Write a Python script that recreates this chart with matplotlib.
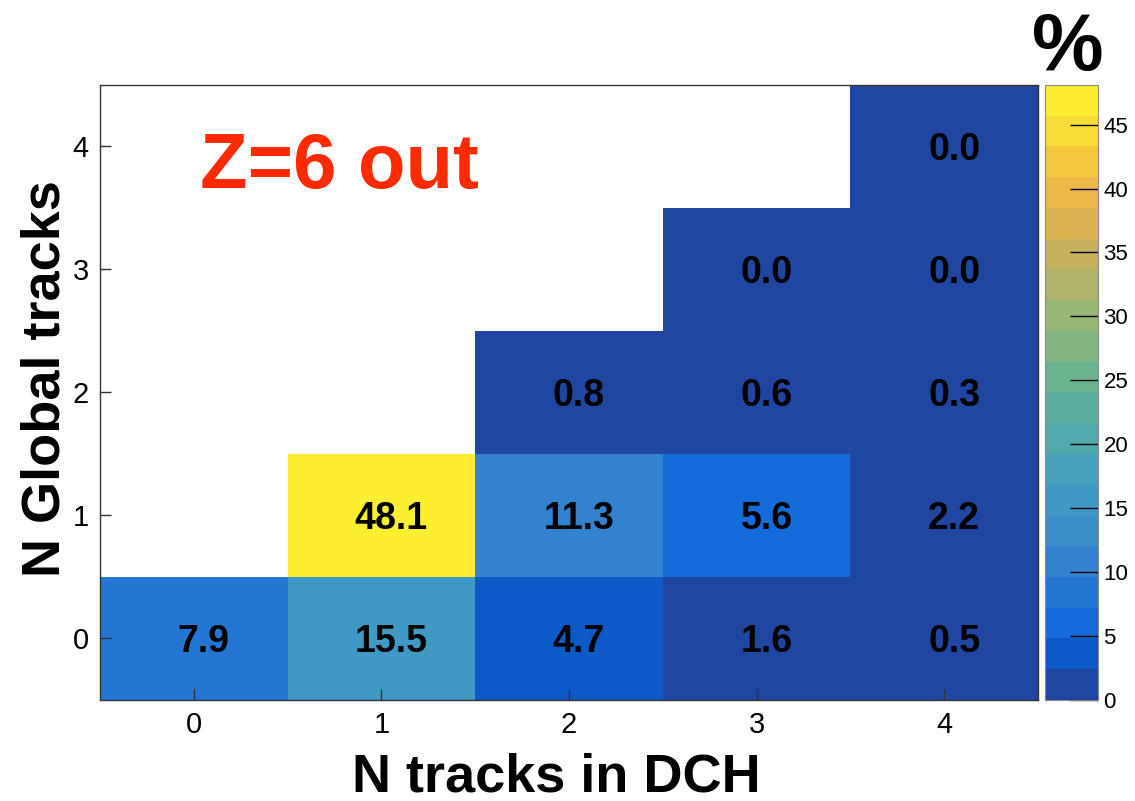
import numpy as np
import matplotlib
matplotlib.use("Agg")
import matplotlib.pyplot as plt
from matplotlib.colors import ListedColormap, BoundaryNorm
from matplotlib.transforms import ScaledTranslation

plt.rcParams["font.family"] = ["Liberation Sans", "DejaVu Sans"]

# data: fraction of events (%) per (N tracks in DCH, N Global tracks)
dch_bins = [0, 1, 2, 3, 4]
global_bins = [0, 1, 2, 3, 4]
row_g0 = [7.9, 15.5, 4.7, 1.6, 0.5]
row_g1 = [np.nan, 48.1, 11.3, 5.6, 2.2]
row_g2 = [np.nan, np.nan, 0.8, 0.6, 0.3]
row_g3 = [np.nan, np.nan, np.nan, 0.0, 0.0]
row_g4 = [np.nan, np.nan, np.nan, np.nan, 0.0]
z_max = 48.1
cbar_ticks = [0, 5, 10, 15, 20, 25, 30, 35, 40, 45]

values = np.array([row_g0, row_g1, row_g2, row_g3, row_g4])

# ROOT-like palette, 20 contour levels (bottom to top)
band_colors = ["#1F46A0", "#0C5AC6", "#166BDA", "#2476D3", "#3282CF",
               "#3A8FC8", "#4099C5", "#48A2BD", "#52A9AB", "#5CAE9E",
               "#6BB28F", "#80B67F", "#97B774", "#B2B36B", "#C6B15F",
               "#DCB353", "#ECB849", "#F5C73D", "#F8DC38", "#FCEE31"]
cmap = ListedColormap(band_colors)
cmap.set_bad("white")
levels = np.linspace(0, z_max, 21)
levels[-1] = z_max + 1e-6
norm = BoundaryNorm(levels, cmap.N)

fig = plt.figure(figsize=(11.35, 8.01), dpi=100)
ax = fig.add_axes([0.0881, 0.1261, 0.8264, 0.7678])
cax = fig.add_axes([0.9207, 0.1261, 0.0467, 0.7678])

edges_x = np.arange(len(dch_bins) + 1) - 0.5
edges_y = np.arange(len(global_bins) + 1) - 0.5
mesh = ax.pcolormesh(edges_x, edges_y, np.ma.masked_invalid(values),
                     cmap=cmap, norm=norm, edgecolors="none")

# ROOT draws the cell text slightly right of / below the bin centre
txt_off = ax.transData + ScaledTranslation(0.10, -0.04, fig.dpi_scale_trans)
for j, g in enumerate(global_bins):
    for i, d in enumerate(dch_bins):
        v = values[j, i]
        if not np.isnan(v):
            ax.text(d, g, "%.1f" % v, ha="center", va="center",
                    fontsize=27, fontweight="bold", color="black",
                    transform=txt_off)

ax.set_xlim(-0.5, 4.5)
ax.set_ylim(-0.5, 4.5)
ax.set_xticks(dch_bins)
ax.set_yticks(global_bins)
ax.tick_params(direction="in", length=8, width=1, labelsize=21,
               top=False, right=False, color="#333333", pad=8)
for s in ax.spines.values():
    s.set_color("#333333")
    s.set_linewidth(1)

ax.set_xlabel("N tracks in DCH", fontsize=39, fontweight="bold")
ax.set_ylabel("N Global tracks", fontsize=39, fontweight="bold")
ax.xaxis.set_label_coords(0.486, -0.0846)
ax.yaxis.set_label_coords(-0.031, 0.523)

ax.text(0.1066, 0.8325, "Z=6 out", transform=ax.transAxes, ha="left",
        va="baseline", fontsize=56, fontweight="bold", color="#FF2A00")

# colour scale
cb = fig.colorbar(mesh, cax=cax, ticks=cbar_ticks)
cb.outline.set_edgecolor("#888888")
cb.outline.set_linewidth(0.8)
cax.yaxis.set_ticks_position("right")
cax.tick_params(direction="in", length=20, width=1, labelsize=16,
                color="black", pad=4)
cax.minorticks_off()
cb.set_ticks(cbar_ticks)

fig.text(0.941, 0.912, "%", ha="center", va="baseline", fontsize=58,
         fontweight="bold")

fig.savefig("out.png", dpi=100)
